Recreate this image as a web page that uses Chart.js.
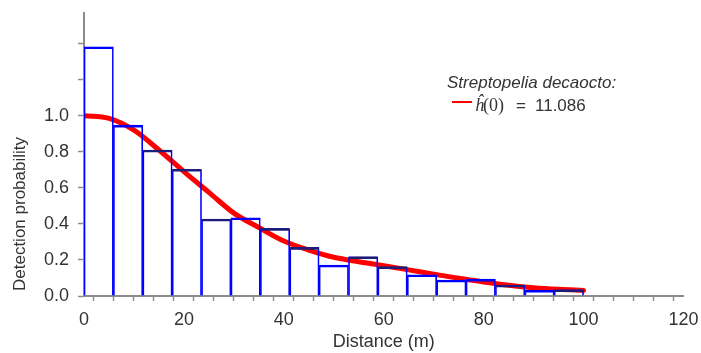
<!DOCTYPE html>
<html><head><meta charset="utf-8">
<script src="https://cdn.jsdelivr.net/npm/chart.js@4.4.1/dist/chart.umd.min.js"></script>
<style>html,body{margin:0;padding:0;background:#fff;}canvas{display:block;}</style>
</head><body>
<canvas id="c" width="701" height="353"></canvas>
<script>
// Histogram: distance-class midpoints (m) and scaled detection frequencies
const distanceMid = [2.94, 8.82, 14.71, 20.59, 26.47, 32.35, 38.24, 44.12, 50.00, 55.88, 61.76, 67.65, 73.53, 79.41, 85.29, 91.18, 97.06];
const scaledFreq  = [1.383, 0.948, 0.81, 0.703, 0.427, 0.434, 0.375, 0.27, 0.172, 0.218, 0.163, 0.118, 0.089, 0.094, 0.061, 0.033, 0.035];
const topTone     = ['b','b','d','d','d','b','d','d','b','d','d','b','b','b','d','b','d'];
// Fitted detection function
const curveDistance = [0, 5, 10, 15, 20, 25, 30, 35, 40, 45, 50, 55, 60, 65, 70, 75, 80, 85, 90, 95, 100];
const curveProb     = [1.0, 0.985, 0.92, 0.81, 0.69, 0.575, 0.46, 0.38, 0.305, 0.255, 0.215, 0.19, 0.168, 0.145, 0.121, 0.098, 0.078, 0.06, 0.046, 0.037, 0.031];
// Tick labels
const xTickLabels = ['0', '20', '40', '60', '80', '100', '120'];
const yTickLabels = ['0.0', '0.2', '0.4', '0.6', '0.8', '1.0'];
const speciesName = 'Streptopelia decaocto:';
const h0Value = '11.086';

const BLUE = '#0000ff', NAVY = '#1c1c7c', AXIS = '#8c8c8c', TXT = '#333333';
Chart.defaults.font.family = '"Liberation Sans", Arial, sans-serif';

const barPts = distanceMid.map((d, i) => ({x: d, y: scaledFreq[i]}));
const curvePts = curveDistance.map((d, i) => ({x: d, y: curveProb[i]}));

const overlay = {
  id: 'overlay',
  afterDraw(chart) {
    const ctx = chart.ctx;
    ctx.save();
    ctx.translate(20, 214);
    ctx.rotate(-Math.PI / 2);
    ctx.font = '17px "Liberation Sans", Arial, sans-serif';
    ctx.fillStyle = TXT;
    ctx.textAlign = 'center';
    ctx.textBaseline = 'middle';
    ctx.fillText('Detection probability', 0, 0);
    ctx.restore();

    ctx.save();
    ctx.fillStyle = TXT;
    ctx.textBaseline = 'alphabetic';
    ctx.textAlign = 'left';
    ctx.font = 'italic 17px "Liberation Sans", Arial, sans-serif';
    ctx.fillText(speciesName, 447, 88);
    ctx.strokeStyle = '#ff0000';
    ctx.lineWidth = 2;
    ctx.beginPath(); ctx.moveTo(452, 102); ctx.lineTo(472, 102); ctx.stroke();
    ctx.font = 'italic 18px "Liberation Serif", serif';
    ctx.fillText('\u0125', 475, 111);
    ctx.font = '18px "Liberation Serif", serif';
    ctx.fillText('(0)', 483, 111);
    ctx.font = '17px "Liberation Sans", Arial, sans-serif';
    ctx.fillText('=', 516, 111);
    ctx.fillText(h0Value, 535, 111);
    ctx.restore();
  }
};

new Chart(document.getElementById('c'), {
  type: 'bar',
  data: {
    datasets: [
      { type: 'bar', xAxisID: 'xb', yAxisID: 'y', data: barPts, order: 0, grouped: false,
        backgroundColor: 'rgba(0,0,0,0)', borderColor: topTone.map(t => t === 'd' ? NAVY : BLUE),
        borderWidth: {top: 2, left: 0, right: 0, bottom: 0}, borderSkipped: 'start',
        barPercentage: 1, categoryPercentage: 1 },
      { type: 'bar', xAxisID: 'xb', yAxisID: 'y', data: barPts, order: 1, grouped: false,
        backgroundColor: 'rgba(0,0,0,0)', borderColor: BLUE,
        borderWidth: {top: 0, left: 1, right: 1, bottom: 0}, borderSkipped: 'start',
        barPercentage: 1, categoryPercentage: 1 },
      { type: 'line', xAxisID: 'x', yAxisID: 'y', data: curvePts, order: 2,
        borderColor: '#ff0000', borderWidth: 5, pointRadius: 0, fill: false,
        cubicInterpolationMode: 'monotone', borderCapStyle: 'round' }
    ]
  },
  options: {
    responsive: false, animation: false,
    layout: { padding: {top: 13, right: 17.5, left: 0, bottom: 0} },
    plugins: { legend: {display: false}, tooltip: {enabled: false} },
    scales: {
      x: { type: 'linear', position: 'bottom', min: 0, max: 120, offset: false, z: 1,
        border: {color: AXIS, width: 2},
        grid: {drawOnChartArea: false, drawTicks: true, tickLength: 5, tickColor: AXIS, tickWidth: 1.5},
        ticks: {stepSize: 4, autoSkip: false, maxRotation: 0, padding: 2, color: TXT, font: {size: 18, lineHeight: 1.85},
          callback: v => xTickLabels.includes(String(v)) ? String(v) : ''},
        title: {display: true, text: 'Distance (m)', color: TXT, font: {size: 18}, padding: {top: 0, bottom: 0}},
        afterFit: s => { s.height = 57; } },
      xb: { type: 'linear', display: false, min: 0, max: 120, offset: false, ticks: {stepSize: 60} },
      y: { type: 'linear', position: 'left', min: 0, max: 1.57, z: 1,
        border: {color: AXIS, width: 2},
        grid: {drawOnChartArea: false, drawTicks: true, tickLength: 6, tickColor: AXIS, tickWidth: 1.5},
        ticks: {stepSize: 0.2, padding: 9, color: TXT, font: {size: 18, lineHeight: 0.3},
          callback: v => { const s = Number(v).toFixed(1); return yTickLabels.includes(s) ? s : ''; }},
        afterBuildTicks: s => { s.ticks = s.ticks.filter(t => t.value <= 1.41); },
        afterFit: s => { s.width = 84; } }
    }
  },
  plugins: [overlay]
});
</script>
</body></html>
